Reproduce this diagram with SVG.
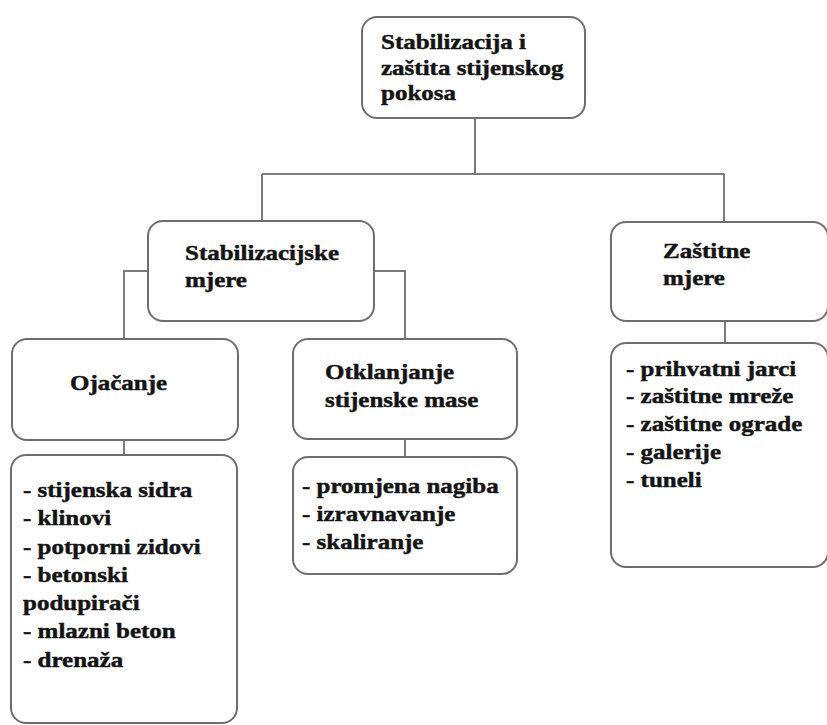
<svg xmlns="http://www.w3.org/2000/svg" width="827" height="725" viewBox="0 0 827 725">
<style>
.box{fill:#fff;stroke:#6e6e6e;stroke-width:2}
.con{fill:none;stroke:#7a7a7a;stroke-width:2}
.t{font-family:"Liberation Serif","Times New Roman",serif;font-weight:bold;font-size:21px;fill:#141414;stroke:#141414;stroke-width:0.45}
</style>
<rect width="827" height="725" fill="#fff"/>
<g id="connectors">
<path class="con" d="M475 118 V174 M262 174 H724 M262 174 V221 M724 174 V222"/>
<path class="con" d="M148 271 H124 V339 M374 271 H405 V339"/>
<path class="con" d="M124 440 V455 M405 439 V457 M725 321 V343"/>
</g>
<g id="root">
<rect class="box" x="362" y="17" width="223" height="101" rx="15"/>
<text class="t" transform="translate(381,49) scale(1.19,1)"><tspan x="0">Stabilizacija i</tspan><tspan x="0" dy="26">zaštita stijenskog</tspan><tspan x="0" dy="25">pokosa</tspan></text>
</g>
<g id="stabilizacijske">
<rect class="box" x="148" y="221" width="226" height="100" rx="15"/>
<text class="t" transform="translate(185,260) scale(1.19,1)"><tspan x="0">Stabilizacijske</tspan><tspan x="0" dy="27">mjere</tspan></text>
</g>
<g id="zastitne">
<rect class="box" x="611" y="222" width="217" height="99" rx="15"/>
<text class="t" transform="translate(663,258) scale(1.19,1)"><tspan x="0">Zaštitne</tspan><tspan x="0" dy="27">mjere</tspan></text>
</g>
<g id="ojacanje">
<rect class="box" x="12" y="339" width="226" height="101" rx="15"/>
<text class="t" transform="translate(70,390) scale(1.19,1)">Ojačanje</text>
</g>
<g id="otklanjanje">
<rect class="box" x="293" y="339" width="224" height="100" rx="15"/>
<text class="t" transform="translate(325,379) scale(1.19,1)"><tspan x="0">Otklanjanje</tspan><tspan x="0" dy="28">stijenske mase</tspan></text>
</g>
<g id="ojacanje-list">
<rect class="box" x="11" y="455" width="226" height="268" rx="15"/>
<text class="t" transform="translate(23,497) scale(1.19,1)"><tspan x="0">- stijenska sidra</tspan><tspan x="0" dy="28.3">- klinovi</tspan><tspan x="0" dy="28.3">- potporni zidovi</tspan><tspan x="0" dy="28.3">- betonski</tspan><tspan x="0" dy="28.3">podupirači</tspan><tspan x="0" dy="28.3">- mlazni beton</tspan><tspan x="0" dy="28.3">- drenaža</tspan></text>
</g>
<g id="otklanjanje-list">
<rect class="box" x="293" y="457" width="224" height="117" rx="15"/>
<text class="t" transform="translate(302,493) scale(1.19,1)"><tspan x="0">- promjena nagiba</tspan><tspan x="0" dy="28.3">- izravnavanje</tspan><tspan x="0" dy="28">- skaliranje</tspan></text>
</g>
<g id="zastitne-list">
<rect class="box" x="611" y="343" width="217" height="224" rx="15"/>
<text class="t" transform="translate(626,376) scale(1.19,1)"><tspan x="0">- prihvatni jarci</tspan><tspan x="0" dy="27.5">- zaštitne mreže</tspan><tspan x="0" dy="28">- zaštitne ograde</tspan><tspan x="0" dy="27.5">- galerije</tspan><tspan x="0" dy="28">- tuneli</tspan></text>
</g>
</svg>
